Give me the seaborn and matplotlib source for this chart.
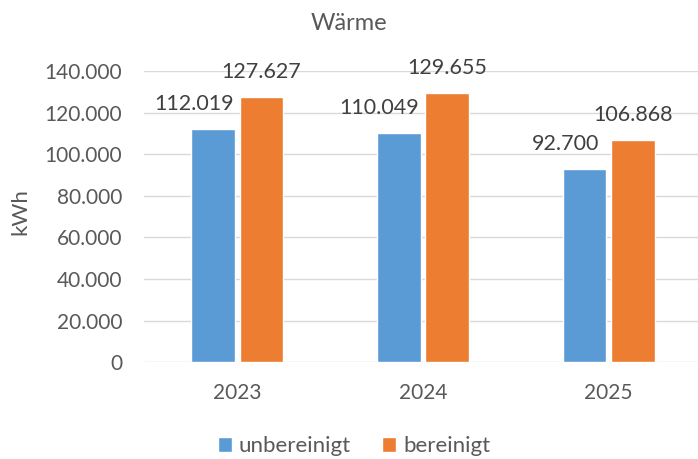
import pandas as pd
import seaborn as sns
import matplotlib.pyplot as plt

# Daten
jahre = ["2023", "2024", "2025"]
unbereinigt = [112019, 110049, 92700]
bereinigt = [127627, 129655, 106868]
serien = ["unbereinigt", "bereinigt"]
farben = ["#5B9BD5", "#ED7D31"]
y_ticks = [0, 20000, 40000, 60000, 80000, 100000, 120000, 140000]

df = pd.DataFrame({
    "Jahr": jahre * 2,
    "kWh": unbereinigt + bereinigt,
    "Serie": [serien[0]] * 3 + [serien[1]] * 3,
})

def de_fmt(v):
    return f"{v:,.0f}".replace(",", ".")

sns.set_style("white")
plt.rcParams['font.family'] = ['Lato', 'DejaVu Sans']
grau = "#595959"

fig = plt.figure(figsize=(6.98, 4.59), dpi=100)
ax = fig.add_axes([0.207, 0.211, 0.798, 0.634])

sns.barplot(data=df, x="Jahr", y="kWh", hue="Serie", palette=farben,
            width=0.52, gap=0.1, saturation=1, ax=ax)

ax.set_ylim(0, 140000)
ax.set_yticks(y_ticks)
ax.set_yticklabels([de_fmt(v) for v in y_ticks])
ax.set_xlim(-0.5, 2.5)
ax.grid(axis="y", color="#D9D9D9", linewidth=1)
ax.set_axisbelow(True)
for s in ax.spines.values():
    s.set_visible(False)
ax.tick_params(axis="y", length=0, pad=16, labelsize=15, labelcolor=grau)
ax.tick_params(axis="x", length=0, pad=15, labelsize=15, labelcolor=grau)
ax.set_xlabel("")
ax.set_ylabel("")

# Datenbeschriftungen
versatz = [-14, 0]
for cont, dx in zip(ax.containers, versatz):
    for bar in cont:
        h = bar.get_height()
        ax.annotate(de_fmt(h), (bar.get_x() + bar.get_width() / 2, h),
                    xytext=(dx, 18), textcoords="offset points",
                    ha="center", va="center", fontsize=15.5, color="#404040")

fig.text(0.5, 1 - 24 / 459, "Wärme", ha="center", va="center",
         fontsize=17, color=grau)
fig.text(20 / 698, 1 - 212 / 459, "kWh", ha="center", va="center",
         rotation=90, fontsize=16, color=grau)

h, l = ax.get_legend_handles_labels()
ax.legend_.remove()
fig.legend(h, l, loc="center", bbox_to_anchor=(0.507, 0.028), ncol=2,
           frameon=False, fontsize=16, labelcolor=grau, handlelength=0.65,
           handleheight=0.65, handletextpad=0.3, columnspacing=1.4)

fig.savefig("out.png", dpi=100)
